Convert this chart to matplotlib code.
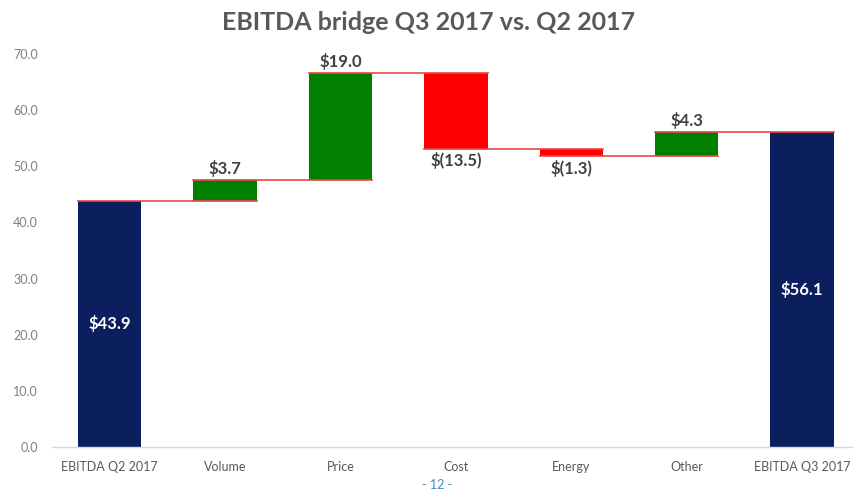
import matplotlib
matplotlib.use("Agg")
import matplotlib.pyplot as plt

categories = ["EBITDA Q2 2017", "Volume", "Price", "Cost", "Energy", "Other", "EBITDA Q3 2017"]
values = [43.9, 3.7, 19.0, -13.5, -1.3, 4.3, 56.1]
labels = ["$43.9", "$3.7", "$19.0", "$(13.5)", "$(1.3)", "$4.3", "$56.1"]
yticks = [0, 10, 20, 30, 40, 50, 60, 70]

plt.rcParams['font.family'] = ['Lato', 'DejaVu Sans']

NAVY = "#0b1f5e"
GREEN = "#007f00"
RED = "#ff0000"
LINE = "#ee4444"
TXT = "#404040"
GRAY = "#7f7f7f"

fig = plt.figure(figsize=(8.54, 4.94), dpi=100)
ax = fig.add_axes([52/854, 47/494, 1 - 52/854, (447-54)/494])
w = 0.55

bottoms, heights, colors = [], [], []
running = 0.0
n = len(values)
levels = []
for i, v in enumerate(values):
    if i == 0 or i == n - 1:
        bottoms.append(0.0)
        heights.append(v)
        colors.append(NAVY)
        running = v
    else:
        if v >= 0:
            bottoms.append(running)
            heights.append(v)
            colors.append(GREEN)
        else:
            bottoms.append(running + v)
            heights.append(-v)
            colors.append(RED)
        running += v
    levels.append(running)

x = list(range(n))
ax.bar(x, heights, bottom=bottoms, width=w, color=colors, zorder=2)

for i in range(n - 1):
    ax.plot([i - w/2, i + 1 + w/2], [levels[i], levels[i]], color=LINE, lw=1.2, zorder=3)

for i, v in enumerate(values):
    if i == 0 or i == n - 1:
        ax.text(i, v / 2, labels[i], ha="center", va="center", color="white",
                fontsize=12, fontweight="bold", zorder=4)
    elif v >= 0:
        ax.text(i, bottoms[i] + heights[i] + 0.5, labels[i], ha="center", va="bottom",
                color=TXT, fontsize=12, fontweight="bold", zorder=4)
    else:
        ax.text(i, bottoms[i] - 0.6, labels[i], ha="center", va="top",
                color=TXT, fontsize=12, fontweight="bold", zorder=4)

ax.set_xlim(-0.5, 6.45)
ax.set_ylim(0, 70)
ax.set_yticks(yticks)
ax.set_yticklabels([f"{t:.1f}" for t in yticks], color=GRAY, fontsize=9)
ax.set_xticks(x)
ax.set_xticklabels(categories, color="#595959", fontsize=9)
ax.tick_params(axis="x", length=0, pad=10)
ax.tick_params(axis="y", length=0, pad=10)
for s in ["top", "right", "left"]:
    ax.spines[s].set_visible(False)
ax.spines["bottom"].set_color("#d9d9d9")
ax.spines["bottom"].set_linewidth(1.0)
ax.patch.set_alpha(0)

fig.text(0.5 * (217 + 640) / 854, 1 - 22/494, "EBITDA bridge Q3 2017 vs. Q2 2017",
         ha="center", va="center", fontsize=18, fontweight="bold", color="#595959")
fig.text(437/854, 1 - 485/494, "- 12 -", ha="center", va="center", fontsize=9, color="#3a8fc7")

fig.savefig("out.png", dpi=100)
